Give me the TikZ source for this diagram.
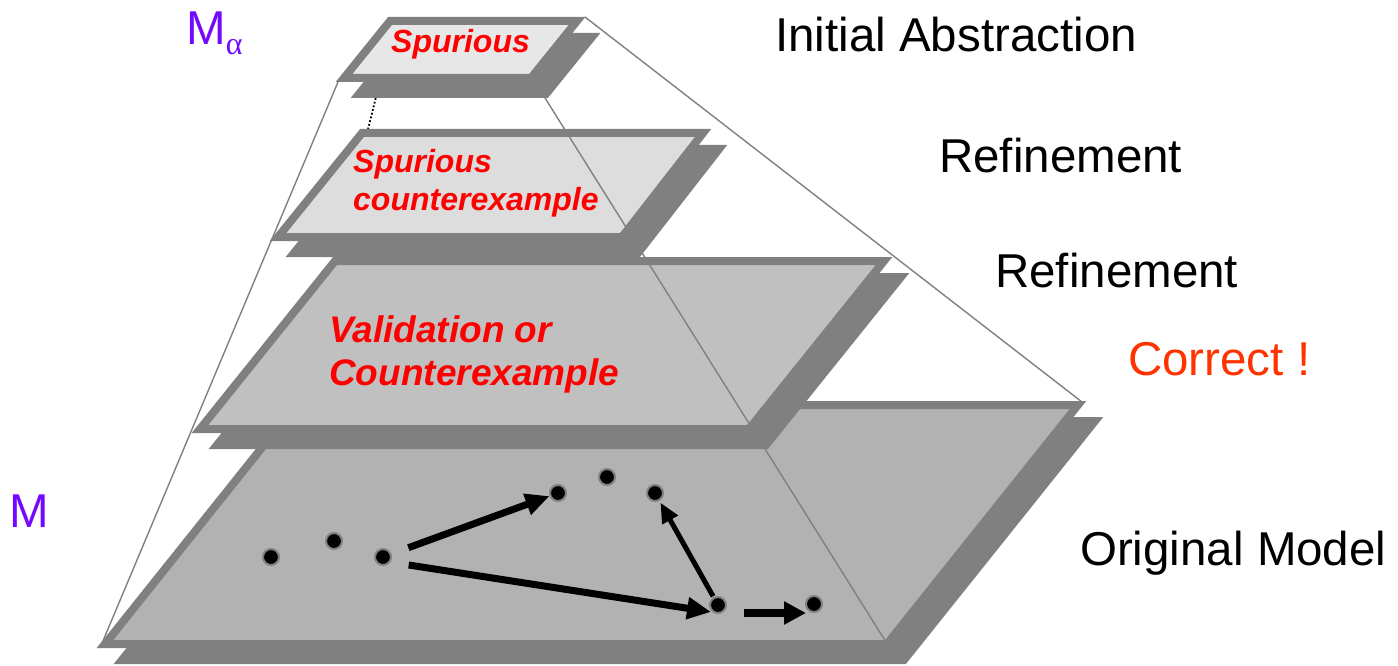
\documentclass[tikz,border=0pt]{standalone}
\usepackage{fontspec}
\setmainfont{Liberation Sans}
\newfontfamily\serifalpha{Liberation Serif}
\usetikzlibrary{arrows.meta}
\definecolor{bordergray}{RGB}{128,128,128}
\definecolor{fillA}{RGB}{231,231,231}
\definecolor{fillB}{RGB}{221,221,221}
\definecolor{fillC}{RGB}{192,192,192}
\definecolor{fillD}{RGB}{178,178,178}
\definecolor{mpurple}{RGB}{115,10,255}
\definecolor{correctred}{RGB}{255,51,0}
\tikzset{
  slab/.style={draw=bordergray, line width=8pt, line join=miter},
  slabshadow/.style={draw=bordergray, fill=bordergray, line width=8pt, line join=miter},
  edgeline/.style={draw=bordergray, line width=1.4pt},
  hiddenedge/.style={draw=black, line width=1.8pt, dotted},
  statedot/.style={circle, fill=black, draw=bordergray, line width=2pt, minimum size=16pt, inner sep=0pt},
  trans/.style={draw=black, line width=7pt, -{Triangle[length=24pt,width=21pt]}},
  thintrans/.style={draw=black, line width=5pt, -{Triangle[length=20pt,width=17pt]}},
  sidetext/.style={font=\fontsize{47.5}{52}\selectfont, inner sep=0pt, anchor=base west},
  redsmall/.style={text=red, font=\fontsize{32}{38}\selectfont\bfseries\itshape, align=left, inner sep=0pt, anchor=base west},
  redbig/.style={text=red, font=\fontsize{37}{43}\selectfont\bfseries\itshape, align=left, inner sep=0pt, anchor=base west},
}
\begin{document}
\begin{tikzpicture}[x=1pt,y=-1pt]
\useasboundingbox (0,0) rectangle (1398,666);

% layer corner coordinates (stroke centre lines)
\coordinate (A1) at (390,21);  \coordinate (B1) at (577,21);  \coordinate (C1) at (531,78);  \coordinate (D1) at (344,78);
\coordinate (A2) at (362,133); \coordinate (B2) at (703,133); \coordinate (C2) at (622,237); \coordinate (D2) at (278,237);
\coordinate (A3) at (335,261); \coordinate (B3) at (884,261); \coordinate (C3) at (749,429); \coordinate (D3) at (200,429);
\coordinate (A4) at (296,405); \coordinate (B4) at (1078,405); \coordinate (C4) at (887,644); \coordinate (D4) at (105,644);

% pyramid edge end points
\coordinate (T1) at (393,28);  \coordinate (T4) at (300,405);
\coordinate (L1) at (338,82);  \coordinate (L4) at (100,648);
\coordinate (M1) at (535,82);  \coordinate (M4) at (886,642);
\coordinate (R1) at (585,17);  \coordinate (R4) at (1082,402);

% hidden back edge
\draw[hiddenedge] (T1) -- (T4);

% bottom layer
\begin{scope}[transform canvas={shift={(17pt,-16pt)}}]
\draw[slabshadow] (A4) -- (B4) -- (C4) -- (D4) -- cycle;
\end{scope}
\draw[slab, fill=fillD] (A4) -- (B4) -- (C4) -- (D4) -- cycle;
% third layer
\begin{scope}[transform canvas={shift={(17pt,-16pt)}}]
\draw[slabshadow] (A3) -- (B3) -- (C3) -- (D3) -- cycle;
\end{scope}
\draw[slab, fill=fillC] (A3) -- (B3) -- (C3) -- (D3) -- cycle;
% second layer
\begin{scope}[transform canvas={shift={(16pt,-16pt)}}]
\draw[slabshadow] (A2) -- (B2) -- (C2) -- (D2) -- cycle;
\end{scope}
\draw[slab, fill=fillB] (A2) -- (B2) -- (C2) -- (D2) -- cycle;

% pyramid edges
\draw[edgeline] (L1) -- (L4);
\draw[edgeline] (M1) -- (M4);
\draw[edgeline] (R1) -- (R4);

% top layer
\begin{scope}[transform canvas={shift={(15pt,-16pt)}}]
\draw[slabshadow] (A1) -- (B1) -- (C1) -- (D1) -- cycle;
\end{scope}
\draw[slab, fill=fillA] (A1) -- (B1) -- (C1) -- (D1) -- cycle;

% texts in layers
\node[redsmall] (t1) at (391,53) {Spurious};
\node[redsmall] (t2) at (353,211) {Spurious\\counterexample};
\node[redbig] (t3) at (329,385) {Validation or\\Counterexample};

% side labels
\node[sidetext] (s1) at (775,52) {Initial Abstraction};
\node[sidetext] (s2) at (939,173) {Refinement};
\node[sidetext] (s3) at (995,287) {Refinement};
\node[sidetext, text=correctred] (s4) at (1128,375) {Correct !};
\node[sidetext] (s5) at (1080,565) {Original Model};
\node[sidetext, text=mpurple] (ma) at (186,45) {M\raisebox{-10pt}{\fontsize{32}{36}\serifalpha α}};
\node[sidetext, text=mpurple] (m) at (9,527) {M};

% states
\node[statedot] (d1) at (271,557) {};
\node[statedot] (d2) at (334,541) {};
\node[statedot] (d3) at (383,557) {};
\node[statedot] (d4) at (558,493) {};
\node[statedot] (d5) at (607,477) {};
\node[statedot] (d6) at (655,493) {};
\node[statedot] (d7) at (718,605) {};
\node[statedot] (d8) at (814,604) {};

% transitions
\draw[trans, shorten <=27pt, shorten >=9pt] (d3.center) -- (d4.center);
\draw[trans, shorten <=26pt, shorten >=7pt] ([yshift=-4pt]d3.center) -- ([yshift=-8pt]d7.center);
\draw[thintrans, shorten <=10pt, shorten >=11pt] (d7.center) -- (d6.center);
\draw[draw=black, line width=8pt, -{Triangle[length=22pt,width=22pt]}, shorten <=26pt, shorten >=8pt] ([yshift=-8pt]d7.center) -- ([yshift=-9pt]d8.center);
\end{tikzpicture}
\end{document}
